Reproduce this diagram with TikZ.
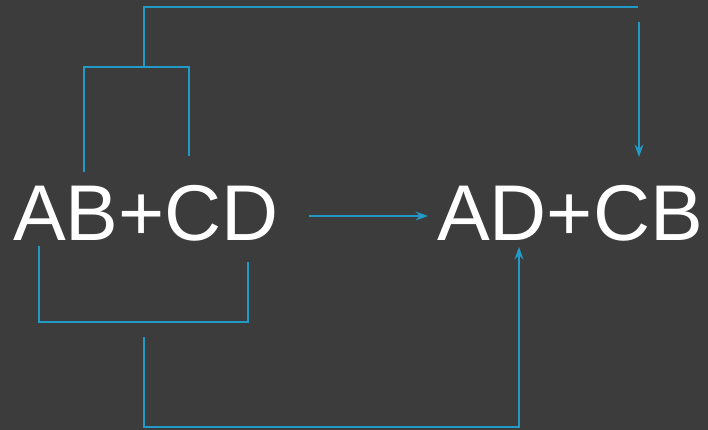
\documentclass[tikz,border=0pt]{standalone}
\usepackage{fontspec}
\setmainfont{Liberation Sans}
\usetikzlibrary{arrows.meta}
\definecolor{bgdark}{HTML}{3C3C3C}
\definecolor{linkblue}{HTML}{229AC8}
\tikzset{
link/.style={draw=linkblue, line width=1.1pt},
arr/.style={link, -{Stealth[length=7pt,width=5pt]}},
term/.style={text=white, font=\fontsize{45}{54}\selectfont, anchor=base, inner sep=0pt}
}
\begin{document}
\begin{tikzpicture}[x=0.02cm,y=-0.02cm]
\fill[bgdark] (0,0) rectangle (708,430);
\useasboundingbox (0,0) rectangle (708,430);

\node[term] (lhs) at (146,240) {AB+CD};
\node[term] (rhs) at (570,240) {AD+CB};

% bracket over AB+CD, going to the top right
\coordinate (ta) at (84,172);
\coordinate (tb) at (189,156);
\coordinate (tm) at (144,67);
\coordinate (tr) at (638,7);
\coordinate (ts) at (639,22);
\coordinate (te) at (639,157);
\draw[link] (ta) |- (tm) -| (tb);
\draw[link] (tm) |- (tr);
\draw[arr] (ts) -- (te);

% the reaction arrow
\coordinate (ma) at (309,216);
\coordinate (mb) at (428,216);
\draw[arr] (ma) -- (mb);

% bracket under AB+CD, going round to AD+CB
\coordinate (ba) at (39,246);
\coordinate (bb) at (248,262);
\coordinate (bm) at (144,322);
\coordinate (bs) at (144,337);
\coordinate (bc) at (144,427);
\coordinate (bt) at (519,247);
\draw[link] (ba) |- (bm) -| (bb);
\draw[arr] (bs) -- (bc) -| (bt);
\end{tikzpicture}
\end{document}
